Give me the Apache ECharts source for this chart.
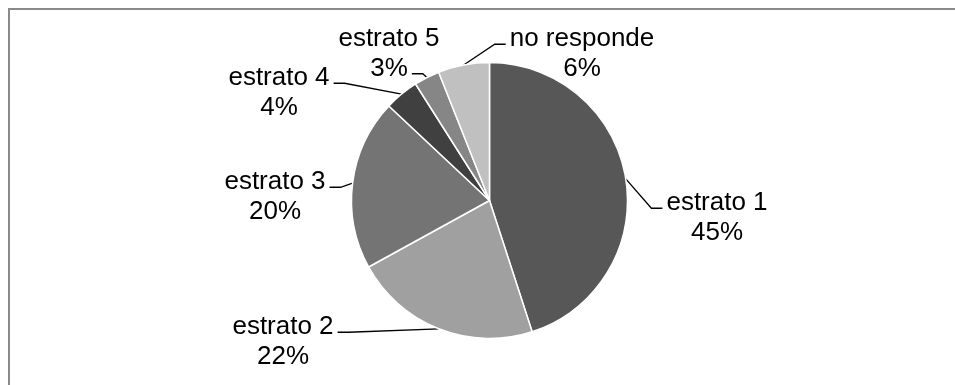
<!DOCTYPE html>
<html>
<head>
<meta charset="utf-8">
<script src="https://cdn.jsdelivr.net/npm/echarts@6/dist/echarts.min.js"></script>
<style>
  html, body { margin: 0; padding: 0; background: #ffffff; }
  #chart { width: 955px; height: 385px; }
</style>
</head>
<body>
<div id="chart"></div>
<script>
// Survey answers by socioeconomic stratum (percent of respondents)
const categories = ['estrato 1', 'estrato 2', 'estrato 3', 'estrato 4', 'estrato 5', 'no responde'];
const shares = [45, 22, 20, 4, 3, 6];
const sliceColors = ['#575757', '#a0a0a0', '#747474', '#404040', '#868686', '#c0c0c0'];

// Centre of each two-line label block, in pixels
const labelSpots = [[717, 218], [283, 342], [275, 197], [279, 93], [389, 54], [582, 54]];
// Which text line the leader line reaches (0 = name, 1 = percentage)
const leaderRow = [0, 0, 0, 0, 1, 0];

const FONT_SIZE = 26;
const LINE_H = 29.5;
const FONT_FAMILY = '"Liberation Sans", Arial, sans-serif';

const measureCtx = document.createElement('canvas').getContext('2d');
measureCtx.font = FONT_SIZE + 'px ' + FONT_FAMILY;

const chart = echarts.init(document.getElementById('chart'), null, { renderer: 'canvas' });

chart.setOption({
  backgroundColor: '#ffffff',
  animation: false,
  graphic: [{
    type: 'rect',
    silent: true,
    z: -10,
    shape: { x: 9, y: 9, width: 1000, height: 420 },
    style: { fill: 'none', stroke: '#8a8a8a', lineWidth: 2 }
  }],
  series: [{
    type: 'pie',
    center: [489.5, 200.5],
    radius: 138,
    startAngle: 90,
    clockwise: true,
    avoidLabelOverlap: false,
    emphasis: { disabled: true },
    color: sliceColors,
    itemStyle: { borderColor: '#ffffff', borderWidth: 1.5 },
    label: {
      show: true,
      position: 'outside',
      alignTo: 'none',
      color: '#000000',
      fontFamily: FONT_FAMILY,
      fontSize: FONT_SIZE,
      lineHeight: LINE_H,
      formatter: p => p.name + '\n' + p.value + '%'
    },
    labelLine: {
      show: true,
      length: 15,
      length2: 10,
      smooth: false,
      lineStyle: { color: '#000000', width: 1.3 }
    },
    labelLayout: function (p) {
      const i = p.dataIndex;
      const cx = labelSpots[i][0];
      const cy = labelSpots[i][1];
      const edge = p.labelLinePoints ? p.labelLinePoints[0] : null;
      const out = { x: cx, y: cy, align: 'center', verticalAlign: 'middle' };
      if (edge) {
        const row = leaderRow[i];
        const txt = row === 0 ? categories[i] : shares[i] + '%';
        const half = measureCtx.measureText(txt).width / 2;
        const lineY = cy - LINE_H / 2 + row * LINE_H + 5;
        const onRight = cx > edge[0];
        const endX = onRight ? cx - half - 4 : cx + half + 4;
        const elbowX = onRight ? endX - 11 : endX + 11;
        out.labelLinePoints = [edge, [elbowX, lineY], [endX, lineY]];
      }
      return out;
    },
    data: categories.map((name, i) => ({ name: name, value: shares[i] }))
  }]
});
</script>
</body>
</html>
